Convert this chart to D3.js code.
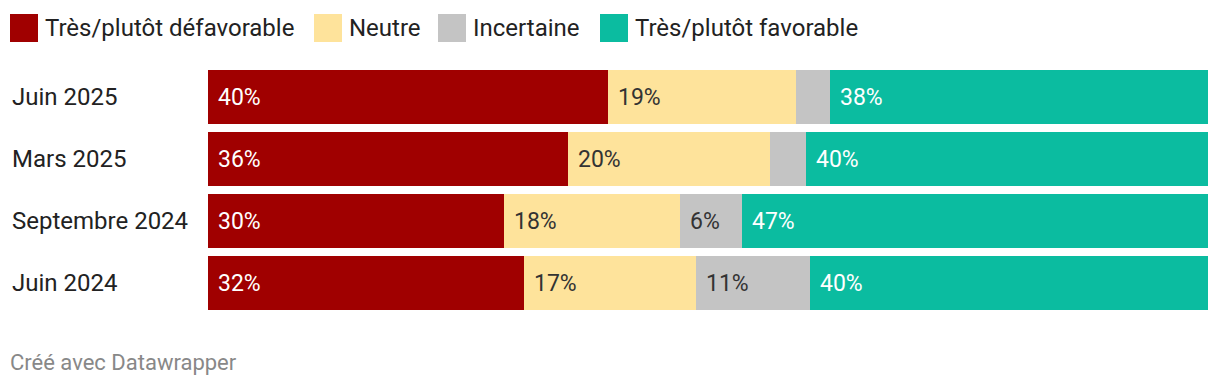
<!DOCTYPE html>
<html lang="fr">
  <head>
    <meta charset="utf-8">
    <title>Stacked bars</title>
    <script src="https://d3js.org/d3.v7.min.js"></script>
    <style>
      body { margin: 0; background: #fff; font-family: Roboto, sans-serif; }
    </style>
  </head>
  <body>
    <script>
// data
const periods = ['Juin 2025', 'Mars 2025', 'Septembre 2024', 'Juin 2024']
const series = ['Très/plutôt défavorable', 'Neutre', 'Incertaine', 'Très/plutôt favorable']
const defavorable = [40, 36, 29.6, 31.6]
const neutre = [18.8, 20.2, 17.6, 17.2]
const incertaine = [3.4, 3.6, 6.2, 11.4]
const favorable = [37.8, 40.2, 46.6, 39.8]

const colors = ['#a00000', '#fee39b', '#c4c4c4', '#0bbca0']
const textColors = ['#fff', '#333', '#333', '#fff']

const width = 1220, height = 386
const dims = { left: 208, right: 1208, top: 70, barH: 54, gap: 8 }

const rows = periods.map((p, i) => ({
  period: p,
  values: [defavorable[i], neutre[i], incertaine[i], favorable[i]]
}))

const svg = d3.select('body').append('svg')
  .attr('width', width)
  .attr('height', height)
  .style('font-family', 'Roboto, sans-serif')

// legend
const legendX = [10, 314, 438, 600]
const legend = svg.append('g').selectAll('g')
  .data(series)
  .join('g')
  .attr('transform', (d, i) => `translate(${legendX[i]}, 14)`)
legend.append('rect')
  .attr('width', 28).attr('height', 28)
  .attr('fill', (d, i) => colors[i])
legend.append('text')
  .attr('x', 35).attr('y', 14)
  .attr('dy', '0.35em')
  .attr('font-size', 24)
  .attr('fill', '#222')
  .text(d => d)

const xScale = d3.scaleLinear().domain([0, 100]).range([dims.left, dims.right])
const n = periods.length
const yScale = d3.scaleBand()
  .domain(periods)
  .range([dims.top, dims.top + n * dims.barH + (n - 1) * dims.gap])
  .paddingInner(dims.gap / (dims.barH + dims.gap))
  .paddingOuter(0)

const rowG = svg.append('g').selectAll('g')
  .data(rows)
  .join('g')
  .attr('transform', d => `translate(0, ${yScale(d.period)})`)

rowG.append('text')
  .attr('x', 12)
  .attr('y', yScale.bandwidth() / 2)
  .attr('dy', '0.35em')
  .attr('font-size', 24)
  .attr('fill', '#222')
  .text(d => d.period)

const segs = rowG.selectAll('g.seg')
  .data(d => {
    let acc = 0
    return d.values.map((v, k) => {
      const s = { k, v, x0: acc, x1: acc + v }
      acc += v
      return s
    })
  })
  .join('g')
  .classed('seg', true)

segs.append('rect')
  .attr('x', d => xScale(d.x0))
  .attr('width', d => xScale(d.x1) - xScale(d.x0))
  .attr('height', yScale.bandwidth())
  .attr('fill', d => colors[d.k])

segs.filter(d => d.v >= 5)
  .append('text')
  .attr('x', d => xScale(d.x0) + 10)
  .attr('y', yScale.bandwidth() / 2)
  .attr('dy', '0.35em')
  .attr('font-size', 23)
  .attr('fill', d => textColors[d.k])
  .text(d => Math.round(d.v) + '%')

svg.append('text')
  .attr('x', 10).attr('y', 370)
  .attr('font-size', 22)
  .attr('fill', '#888')
  .text('Créé avec Datawrapper')
    </script>
  </body>
</html>
